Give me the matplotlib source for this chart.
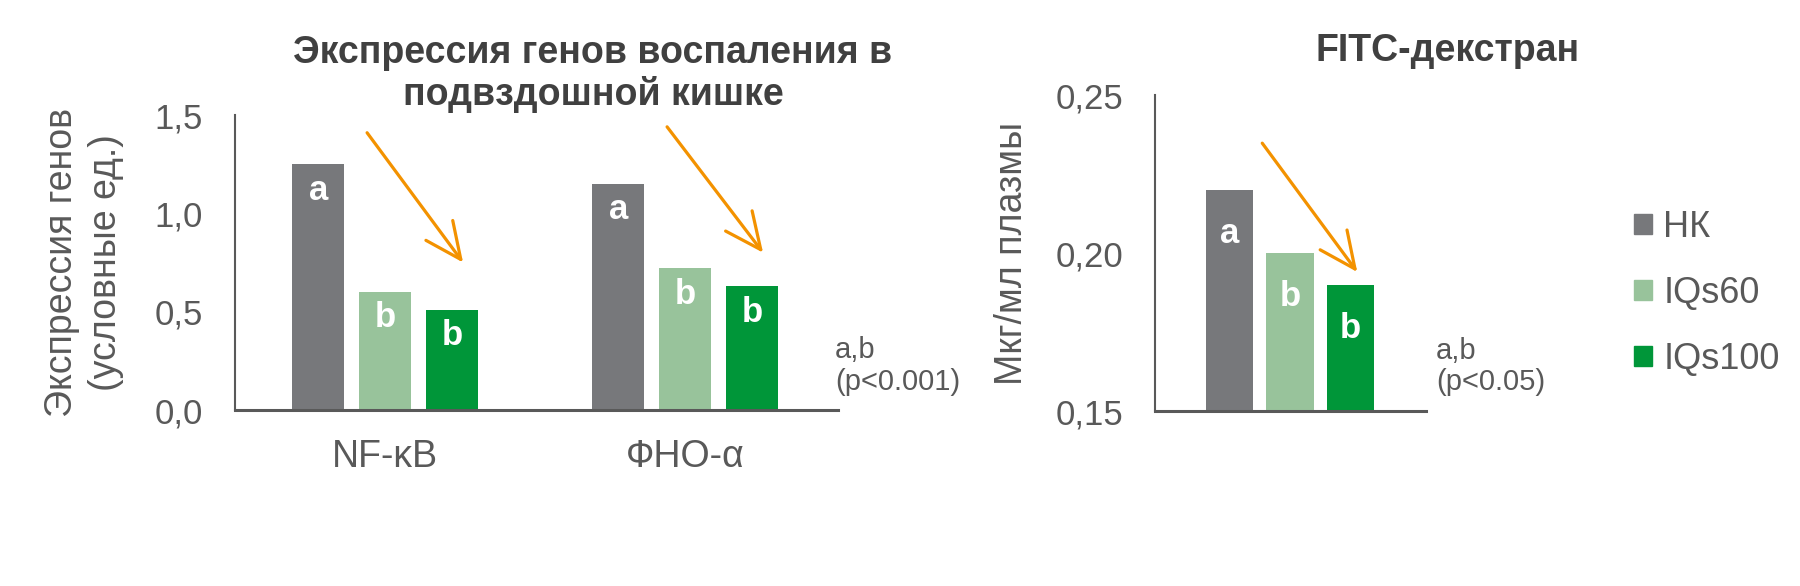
import numpy as np
import matplotlib
matplotlib.use("Agg")
from matplotlib import pyplot as plt
from matplotlib.patches import Patch

plt.rcParams['font.family'] = ['Liberation Sans', 'DejaVu Sans']

# data
groups = ["НК", "IQs60", "IQs100"]
colors = ["#77787b", "#98c39b", "#009639"]
genes = ["NF-κB", "ФНО-α"]
gene_vals = [[1.25, 1.15],   # НК
             [0.60, 0.72],   # IQs60
             [0.51, 0.63]]   # IQs100
gene_letters = ["a", "b", "b"]
fitc_vals = [0.220, 0.200, 0.190]
fitc_letters = ["a", "b", "b"]

# trend arrows (start / tip heights, data units)
gene_arrow_top = [1.41, 1.44]
gene_arrow_tip = [0.75, 0.80]
fitc_arrow_top = 0.2348
fitc_arrow_tip = 0.194

TXT = "#595959"
TITLE = "#404040"
ORANGE = "#f39200"
ARROW = dict(arrowstyle="->,head_length=2.6,head_width=1.2", color=ORANGE,
             lw=2.3, shrinkA=0, shrinkB=0)

fig = plt.figure(figsize=(18, 5.86), dpi=100)

width, step = 0.175, 0.223

# left panel: gene expression
ax = fig.add_axes([0.1306, 0.3003, 0.335, 0.5034])
x = np.arange(len(genes))
for i, g in enumerate(groups):
    xs = x + (i - 1) * step
    ax.bar(xs, gene_vals[i], width, color=colors[i])
    for xx, v in zip(xs, gene_vals[i]):
        ax.text(xx, v - 0.132, gene_letters[i], color="white", fontsize=25,
                fontweight="bold", ha="center", va="center")
ax.set_xlim(-0.5, 1.51)
ax.set_ylim(0, 1.5)
ax.set_yticks([0, 0.5, 1.0, 1.5])
ax.set_yticklabels(["0,0", "0,5", "1,0", "1,5"])
ax.set_xticks(x)
ax.set_xticklabels(genes, fontsize=27)
ax.set_ylabel("Экспрессия генов\n(условные ед.)", fontsize=27, color=TXT,
              labelpad=22, linespacing=1.3)
for xc in x:
    ax.annotate("", xy=(xc + 0.26, gene_arrow_tip[xc]),
                xytext=(xc - 0.06, gene_arrow_top[xc]), arrowprops=ARROW)
ax.text(1.5, 0.375, "a,b\n(p<0.001)", fontsize=21, color=TXT, va="top",
        linespacing=1.15, clip_on=False)

# right panel: FITC-dextran
ax2 = fig.add_axes([0.6417, 0.2986, 0.1506, 0.539])
for i, g in enumerate(groups):
    xx = (i - 1) * step
    ax2.bar(xx, fitc_vals[i], width, color=colors[i], label=g)
    ax2.text(xx, fitc_vals[i] - 0.0138, fitc_letters[i], color="white",
             fontsize=25, fontweight="bold", ha="center", va="center")
ax2.set_xlim(-0.5, 0.504)
ax2.set_ylim(0.15, 0.25)
ax2.set_yticks([0.15, 0.20, 0.25])
ax2.set_yticklabels(["0,15", "0,20", "0,25"])
ax2.set_xticks([])
ax2.set_ylabel("Мкг/мл плазмы", fontsize=27, color=TXT, labelpad=18)
ax2.annotate("", xy=(0.249, fitc_arrow_tip), xytext=(-0.103, fitc_arrow_top),
             arrowprops=ARROW)
ax2.text(0.54, 0.1735, "a,b\n(p<0.05)", fontsize=21, color=TXT, va="top",
         linespacing=1.15, clip_on=False)

for a in (ax, ax2):
    for s in ("top", "right"):
        a.spines[s].set_visible(False)
    a.spines["left"].set_color(TXT)
    a.spines["bottom"].set_color(TXT)
    a.spines["left"].set_linewidth(1.5)
    a.spines["bottom"].set_linewidth(2.2)
    a.tick_params(axis="y", length=0, labelsize=25, colors=TXT, pad=23)
    a.tick_params(axis="x", length=0, colors=TXT, pad=21)

# titles
fig.text(0.3294, 0.941, "Экспрессия генов воспаления в\nподвздошной кишке",
         fontsize=27, fontweight="bold", color=TITLE, ha="center", va="top",
         linespacing=1.2)
fig.text(0.804, 0.943, "FITC-декстран", fontsize=27, fontweight="bold",
         color=TITLE, ha="center", va="top")

handles = [Patch(color=c) for c in colors]
fig.legend(handles, groups, loc="upper left", bbox_to_anchor=(0.908, 0.642),
           frameon=False, fontsize=26, labelcolor=TXT, handlelength=0.5,
           handleheight=0.5, handletextpad=0.3, labelspacing=0.86,
           borderpad=0, borderaxespad=0)

fig.savefig("out.png", dpi=100)
